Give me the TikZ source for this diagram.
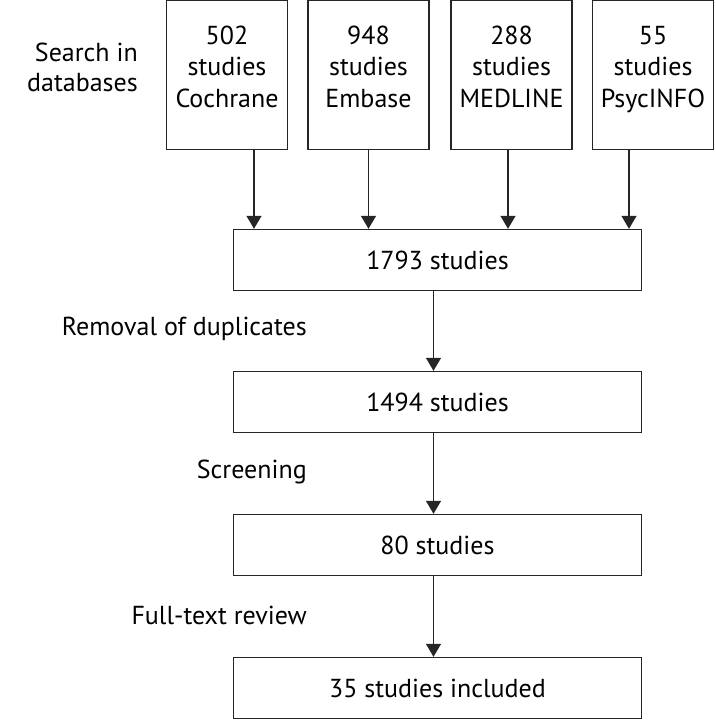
\documentclass[tikz,border=0pt]{standalone}
\usepackage{fontspec}
\setmainfont{PT Sans}
\usetikzlibrary{arrows.meta}
\tikzset{
  box/.style={draw=black!85, line width=1.4pt, fill=white, inner sep=0pt, align=center, font=\fontsize{26}{31.5}\selectfont},
  dbbox/.style={box, minimum width=121pt, minimum height=149pt},
  dbtext/.style={inner sep=0pt, align=center, font=\fontsize{26}{31.5}\selectfont},
  wbox/.style={box, minimum width=408pt, minimum height=61pt},
  lbl/.style={font=\fontsize{26}{30}\selectfont, inner sep=0pt},
  arr/.style={line width=1.4pt, draw=black!85, -{Triangle[width=15pt,length=13pt]}}
}
\begin{document}
\begin{tikzpicture}[x=1pt,y=1pt]
\useasboundingbox (0,0) rectangle (715,-720);
\node[dbbox] (c) at (227,-75) {};
\node[dbbox] (e) at (368.5,-75) {};
\node[dbbox] (m) at (511.5,-75) {};
\node[dbbox] (p) at (653,-75) {};
\node[dbtext, anchor=base] (ct) at (227,-107) {502\\studies\\Cochrane};
\node[dbtext, anchor=base] (et) at (368.5,-107) {948\\studies\\Embase};
\node[dbtext, anchor=base] (mt) at (511.5,-107) {288\\studies\\MEDLINE};
\node[dbtext, anchor=base] (pt) at (653,-107) {55\\studies\\PsycINFO};
\node[wbox] (t) at (437.5,-260) {1793 studies};
\node[wbox] (d) at (437.5,-402) {1494 studies};
\node[wbox] (s) at (437.5,-545) {80 studies};
\node[wbox] (f) at (437.5,-688) {35 studies included};
\node[lbl, align=right, anchor=east] (l0) at (138,-67) {Search in\\databases};
\node[lbl, anchor=east] (l1) at (307,-329) {Removal of duplicates};
\node[lbl, anchor=east] (l2) at (307,-472) {Screening};
\node[lbl, anchor=east] (l3) at (307,-615) {Full-text review};
\draw[arr] ([xshift=27pt]c.south) -- ([xshift=27pt]c.south |- t.north);
\draw[arr] (e.south) -- (e.south |- t.north);
\draw[arr] ([xshift=-3.5pt]m.south) -- ([xshift=-3.5pt]m.south |- t.north);
\draw[arr] ([xshift=-24pt]p.south) -- ([xshift=-24pt]p.south |- t.north);
\draw[arr] ([xshift=-4pt]t.south) -- ([xshift=-4pt]d.north);
\draw[arr] ([xshift=-4pt]d.south) -- ([xshift=-4pt]s.north);
\draw[arr] ([xshift=-4pt]s.south) -- ([xshift=-4pt]f.north);
\end{tikzpicture}
\end{document}
